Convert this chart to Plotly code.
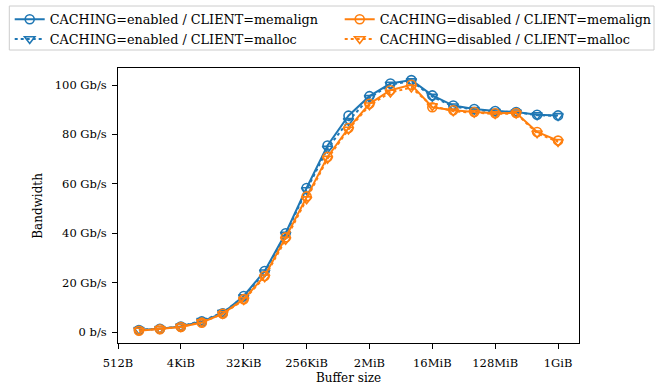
import math
import plotly.graph_objects as go

# Buffer sizes: powers of two from 1 KiB to 1 GiB (bytes)
buffer_sizes = [2 ** k for k in range(10, 31)]

# Measured bandwidth in Gb/s
enabled_memalign = [0.8, 1.3, 2.2, 4.3, 7.6, 14.6, 24.7, 40.0, 58.3, 75.5, 87.6,
                    95.5, 100.6, 102.0, 95.8, 91.7, 90.3, 89.5, 89.1, 88.0, 87.7]
enabled_malloc = [0.9, 1.3, 2.3, 4.5, 7.9, 14.2, 24.2, 39.5, 57.5, 74.3, 85.5,
                  94.8, 100.2, 101.6, 95.3, 91.4, 90.0, 89.3, 89.0, 87.8, 87.5]
disabled_memalign = [0.5, 1.1, 2.0, 3.8, 7.4, 13.3, 22.7, 38.3, 54.9, 70.9, 82.6,
                     92.4, 97.9, 100.1, 91.0, 89.8, 89.1, 88.6, 88.7, 81.0, 77.5]
disabled_malloc = [0.6, 1.2, 2.1, 4.0, 7.3, 13.0, 22.2, 37.4, 53.8, 70.2, 82.0,
                   91.8, 97.0, 99.0, 91.5, 89.4, 88.8, 88.3, 88.5, 80.5, 77.0]

# Axis ticks
x_tick_vals = [2 ** 9, 2 ** 12, 2 ** 15, 2 ** 18, 2 ** 21, 2 ** 24, 2 ** 27, 2 ** 30]
x_tick_text = ["512B", "4KiB", "32KiB", "256KiB", "2MiB", "16MiB", "128MiB", "1GiB"]
y_tick_vals = [0, 20, 40, 60, 80, 100]
y_tick_text = ["0 b/s", "20 Gb/s", "40 Gb/s", "60 Gb/s", "80 Gb/s", "100 Gb/s"]

BLUE = "#1f77b4"
ORANGE = "#ff7f0e"
FONT = "DejaVu Serif, Liberation Serif, serif"
TICK_SIZE = 11.5
LEGEND_SIZE = 12.8

# (label, values, colour, dash, marker, legend column)
series = [
    ("CACHING=enabled / CLIENT=memalign", enabled_memalign, BLUE, "solid", "circle-open", "legend"),
    ("CACHING=enabled / CLIENT=malloc", enabled_malloc, BLUE, "dot", "triangle-down-open", "legend"),
    ("CACHING=disabled / CLIENT=memalign", disabled_memalign, ORANGE, "solid", "circle-open", "legend2"),
    ("CACHING=disabled / CLIENT=malloc", disabled_malloc, ORANGE, "dot", "triangle-down-open", "legend2"),
]

fig = go.Figure()
for name, values, color, dash, symbol, legend in series:
    fig.add_trace(go.Scatter(
        x=buffer_sizes, y=values, name=name, mode="lines+markers", legend=legend,
        line=dict(color=color, width=2, dash=dash),
        marker=dict(symbol=symbol, size=9, color=color, line=dict(color=color, width=1.6)),
    ))

axis_common = dict(
    showgrid=False, zeroline=False, showline=True, linecolor="black", linewidth=1,
    mirror=True, ticks="outside", ticklen=5, tickwidth=1, tickcolor="black",
    tickfont=dict(family=FONT, size=TICK_SIZE, color="black"),
)

legend_common = dict(
    orientation="v", xref="container", yref="container",
    xanchor="left", yanchor="top", y=1 - 4.5 / 389,
    borderwidth=0, bgcolor="rgba(0,0,0,0)", tracegroupgap=0,
    font=dict(family=FONT, size=LEGEND_SIZE, color="black"),
)

# Plot area in pixels: x 118..579, y 68..343 -> paper coords for the legend frame
PW, PH = 579 - 118, 343 - 68


def px_to_paper_x(px):
    return (px - 118) / PW


def px_to_paper_y(py):
    return (343 - py) / PH


fig.update_layout(
    width=665, height=389,
    margin=dict(l=118, r=86, t=68, b=46, autoexpand=False),
    paper_bgcolor="white", plot_bgcolor="white",
    font=dict(family=FONT, size=12, color="black"),
    xaxis=dict(type="log", range=[math.log10(2 ** 9), math.log10(2 ** 31)],
               tickvals=x_tick_vals, ticktext=x_tick_text, ticklabelstandoff=4,
               **axis_common),
    yaxis=dict(range=[-4.45, 106.9], tickvals=y_tick_vals, ticktext=y_tick_text,
               ticklabelstandoff=3, **axis_common),
    legend=dict(x=9.7 / 665, **legend_common),
    legend2=dict(x=339.7 / 665, **legend_common),
    shapes=[
        dict(type="rect", xref="paper", yref="paper",
             x0=px_to_paper_x(9.3), x1=px_to_paper_x(654),
             y0=px_to_paper_y(50), y1=px_to_paper_y(6),
             line=dict(color="#cccccc", width=1), fillcolor="rgba(0,0,0,0)",
             layer="below"),
    ],
    annotations=[
        dict(text="Buffer size", xref="paper", yref="paper", x=0.5, y=-0.093,
             yanchor="top", showarrow=False, font=dict(family=FONT, size=12)),
        dict(text="Bandwidth", xref="paper", yref="paper", x=-0.175, y=0.5,
             textangle=-90, xanchor="center", showarrow=False,
             font=dict(family=FONT, size=12)),
    ],
)

fig.write_html("out.html")
